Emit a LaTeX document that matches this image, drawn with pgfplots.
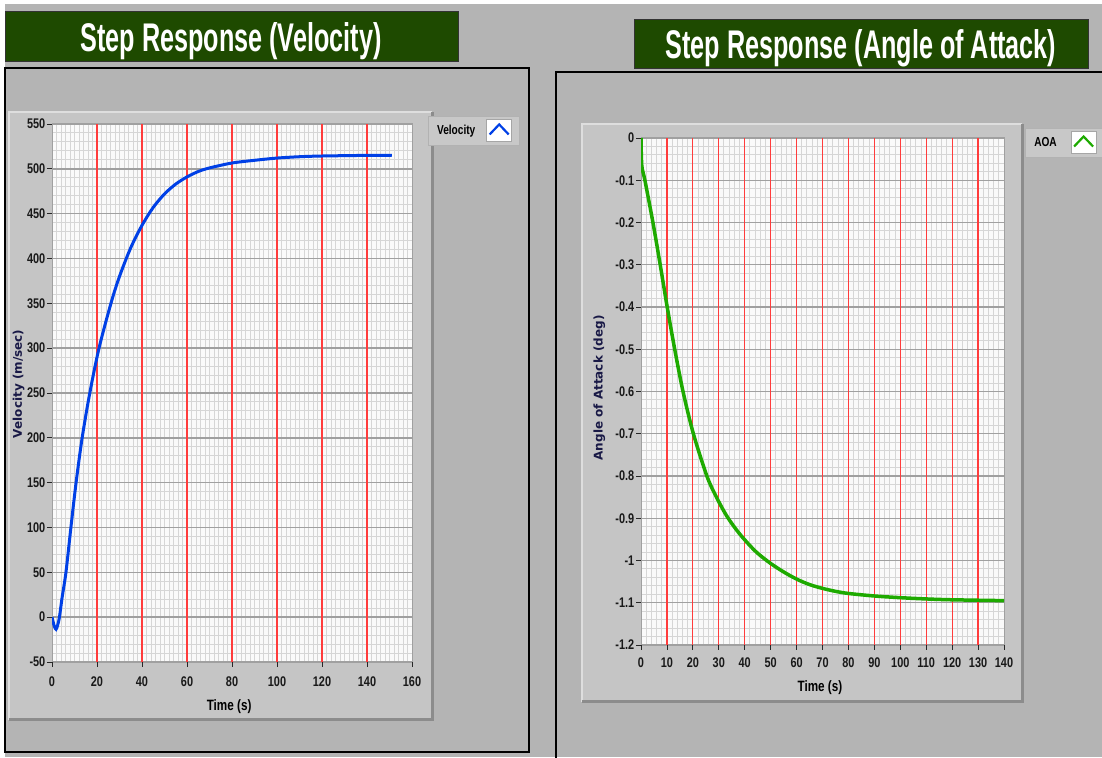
\documentclass[border=0pt]{standalone}
\usepackage{pgfplots}
\pgfplotsset{compat=1.18}
\usepackage{fontspec}
\setmainfont{Liberation Sans}
\newfontfamily\titlefont{Liberation Sans Bold}[FakeStretch=0.63]
\newfontfamily\tickfont{Liberation Sans Bold}[FakeStretch=0.78]
\newfontfamily\labelfont{DejaVu Sans Bold}

\definecolor{bggray}{RGB}{180,180,180}
\definecolor{panelgray}{RGB}{197,197,197}
\definecolor{panellight}{RGB}{222,222,222}
\definecolor{paneldark}{RGB}{140,140,140}
\definecolor{bannergreen}{RGB}{30,74,0}
\definecolor{velblue}{RGB}{0,64,230}
\definecolor{aoagreen}{RGB}{30,170,0}
\definecolor{gridred}{RGB}{255,60,60}
\definecolor{gridmajor}{RGB}{160,160,160}
\definecolor{gridminor}{RGB}{214,214,214}
\definecolor{labelnavy}{RGB}{25,25,70}
\definecolor{plotbg}{RGB}{250,250,250}
\definecolor{legendgray}{RGB}{200,200,200}

\pgfplotstableread{
t v
0 0
1 -10
1.8 -13.5
2.5 -9
3.3 0
4.5 22
6.2 50
8.4 100
10.7 150
13.4 200
16.8 250
20.9 300
26.2 350
30 380
35 412
40 437
45 457
50 472
55 483
60 491
65 497
70 501
80 506.5
90 509.5
100 512
110 513.5
120 514.3
140 515
151 515
}\veldata

\pgfplotstableread{
t a
0 0
0.3 -0.065
1.5 -0.1
4.6 -0.2
7.4 -0.3
10.1 -0.4
13.0 -0.5
16.2 -0.6
20.2 -0.7
25.4 -0.8
29 -0.849
33 -0.894
37 -0.929
41 -0.958
45 -0.983
50 -1.007
55 -1.027
60 -1.044
65 -1.057
70 -1.066
75 -1.073
80 -1.078
90 -1.084
100 -1.088
110 -1.091
120 -1.093
140 -1.095
}\aoadata

\pgfplotsset{
  labview/.style={
    scale only axis,
    ymajorgrids, xminorgrids, yminorgrids,
    major y grid style={gridmajor, line width=1.4pt},
    minor grid style={gridminor, line width=1pt},
    axis background/.style={fill=plotbg},
    axis line style={gridmajor, line width=1pt},
    tick align=outside, xtick pos=bottom, ytick pos=left,
    major tick length=5pt, minor tick length=0pt,
    major tick style={black!85, line width=0.8pt},
    ticklabel style={font=\tickfont\fontsize{14}{14}\selectfont, text=black!90},
    yticklabel style={inner sep=1.5pt},
  },
  overlay/.style={
    scale only axis,
    xmajorgrids,
    major x grid style={gridred, line width=1.2pt},
    axis line style={draw=none},
    ytick=\empty, xticklabels={},
    major tick length=0pt, minor tick length=0pt,
    legend plot pos=right,
    legend image code/.code={
      \draw[draw=gray!70, fill=white, line width=0.6pt] (0pt,-11pt) rectangle (25pt,11pt);
      \draw[##1, line width=2.2pt] (3pt,-4pt) -- (12.5pt,6pt) -- (22pt,-4pt);
    },
  }
}

\begin{document}
\begin{tikzpicture}[x=1pt,y=1pt]
\path[use as bounding box] (0,0) rectangle (1102,757);
\clip (0,0) rectangle (1102,757);
% background
\fill[white] (0,0) rectangle (1102,757);
\fill[bggray] (5,0) rectangle (1102,753);
% left panel
\draw[black, line width=2.5pt] (5,5) rectangle (529,689);
\fill[panelgray] (9,37) rectangle (432,645);
\draw[panellight, line width=2.5pt] (9,37) -- (9,645) -- (432,645);
\draw[paneldark, line width=3pt] (9,37) -- (432,37) -- (432,645);
% left banner
\fill[bannergreen] (5,695) rectangle (458,745);
\draw[black!80, line width=1pt] (5,695) rectangle (458,745);
\node[text=white, font=\titlefont\fontsize{40}{40}\selectfont, anchor=base] at (231,705.5) {Step Response (Velocity)};
% right panel
\draw[black, line width=2.5pt] (556,-5) -- (556,685) -- (1110,685);
\fill[panelgray] (582,55) rectangle (1022,633);
\draw[panellight, line width=2.5pt] (582,55) -- (582,633) -- (1022,633);
\draw[paneldark, line width=3pt] (582,55) -- (1022,55) -- (1022,633);
% right banner
\fill[bannergreen] (634,688) rectangle (1088,737);
\draw[black!80, line width=1pt] (634,688) rectangle (1088,737);
\node[text=white, font=\titlefont\fontsize{40}{40}\selectfont, anchor=base] at (861,698) {Step Response (Angle of Attack)};

% ---------- Velocity axis (frame, grid, ticks) ----------
\begin{axis}[labview,
  at={(52pt,95pt)}, anchor=south west,
  width=360pt, height=538pt,
  xmin=0, xmax=160, ymin=-50, ymax=550,
  xtick={0,20,40,60,80,100,120,140,160},
  xticklabels={0,20,40,60,80,100,120,140,160},
  ytick={-50,0,50,100,150,200,250,300,350,400,450,500,550},
  yticklabels={-50,0,50,100,150,200,250,300,350,400,450,500,550},
  xticklabel style={yshift=-6pt},
  minor x tick num=9, minor y tick num=4,
  xlabel={Time (s)}, ylabel={Velocity (m/sec)},
  xlabel style={at={(axis description cs:0.492,-0.0836)}, anchor=center, font=\tickfont\fontsize{15}{15}\selectfont},
  ylabel style={at={(axis description cs:-0.093,0.517)}, anchor=center, font=\labelfont\fontsize{12}{12}\selectfont, text=labelnavy},
]
\end{axis}
% ---------- Velocity axis (red grid, curve, legend) ----------
\begin{axis}[overlay,
  at={(52pt,95pt)}, anchor=south west,
  width=360pt, height=538pt,
  xmin=0, xmax=160, ymin=-50, ymax=550,
  xtick={20,40,60,80,100,120,140},
  legend style={at={(axis description cs:1.044,1.015)}, anchor=north west,
    fill=legendgray, draw=gray!60, font=\tickfont\fontsize{13}{13}\selectfont,
    inner xsep=7pt, inner ysep=3pt, column sep=9pt},
]
\addplot[velblue, line width=3pt, smooth, tension=0.5] table[x=t, y=v] {\veldata};
\addlegendentry{Velocity}
\end{axis}

% ---------- AOA axis (frame, grid, ticks) ----------
\begin{axis}[labview,
  at={(641pt,112pt)}, anchor=south west,
  width=363pt, height=507pt,
  xmin=0, xmax=140, ymin=-1.2, ymax=0,
  xtick={0,10,20,30,40,50,60,70,80,90,100,110,120,130,140},
  xticklabels={0,10,20,30,40,50,60,70,80,90,100,110,120,130,140},
  ytick={-1.2,-1.1,-1,-0.9,-0.8,-0.7,-0.6,-0.5,-0.4,-0.3,-0.2,-0.1,0},
  yticklabels={-1.2,-1.1,-1,-0.9,-0.8,-0.7,-0.6,-0.5,-0.4,-0.3,-0.2,-0.1,0},
  xticklabel style={yshift=-4pt},
  minor x tick num=4, minor y tick num=4,
  xlabel={Time (s)}, ylabel={Angle of Attack (deg)},
  xlabel style={at={(axis description cs:0.493,-0.0848)}, anchor=center, font=\tickfont\fontsize{15}{15}\selectfont},
  ylabel style={at={(axis description cs:-0.115,0.507)}, anchor=center, font=\labelfont\fontsize{12}{12}\selectfont, text=labelnavy},
]
\end{axis}
% ---------- AOA axis (red grid, curve, legend) ----------
\begin{axis}[overlay,
  at={(641pt,112pt)}, anchor=south west,
  width=363pt, height=507pt,
  xmin=0, xmax=140, ymin=-1.2, ymax=0,
  xtick={10,20,30,40,50,60,70,80,90,100,110,120,130},
  legend style={at={(axis description cs:1.058,1.0197)}, anchor=north west,
    fill=legendgray, draw=gray!60, font=\tickfont\fontsize{13}{13}\selectfont,
    inner xsep=7pt, inner ysep=3pt, column sep=12pt},
]
\addplot[aoagreen, line width=3.5pt, smooth, tension=0.5] table[x=t, y=a] {\aoadata};
\addlegendentry{AOA}
\end{axis}
\end{tikzpicture}
\end{document}
